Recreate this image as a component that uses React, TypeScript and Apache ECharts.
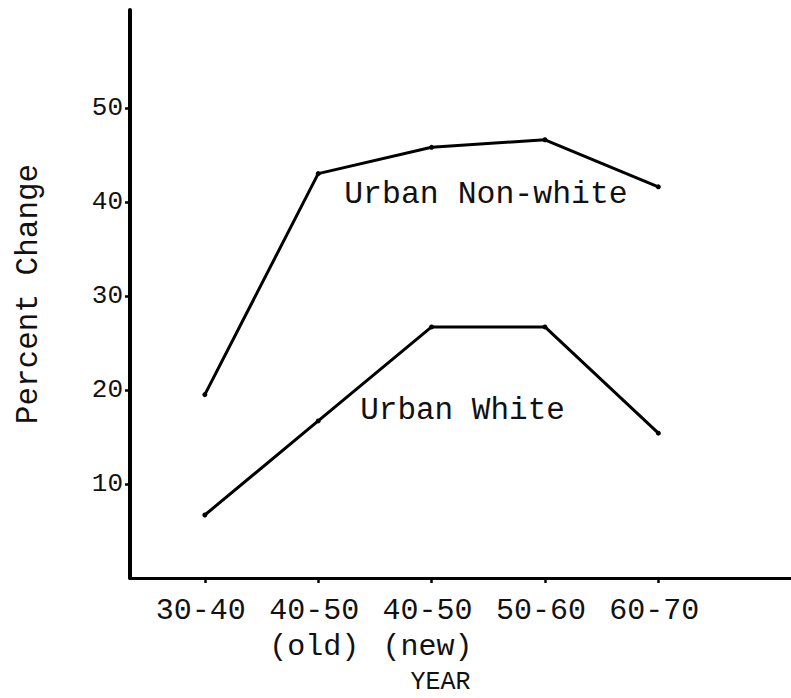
import React, { useEffect, useRef } from "react";
import * as echarts from "echarts";

const categories = ["30-40", "40-50\n(old)", "40-50\n(new)", "50-60", "60-70"];
const nonWhite = [19.5, 43.0, 45.8, 46.6, 41.6];
const white = [6.7, 16.7, 26.7, 26.7, 15.4];
const yTicks = [10, 20, 30, 40, 50];
const seriesNames = ["Urban Non-white", "Urban White"];

const FONT = "'Liberation Mono', 'DejaVu Sans Mono', monospace";

export default function App() {
  const ref = useRef<HTMLDivElement>(null);
  useEffect(() => {
    if (!ref.current) return;
    const chart = echarts.init(ref.current, null, { renderer: "svg" });
    const xIdx = categories.map((_, i) => i);
    const toPts = (arr: number[], labelIdx: number, offset: number[], size: number) =>
      arr.map((v, i) =>
        i === labelIdx
          ? {
              value: [i, v],
              label: {
                show: true,
                formatter: "{a}",
                position: "inside",
                align: "left",
                verticalAlign: "middle",
                offset,
                fontFamily: FONT,
                fontSize: size,
                color: "#111",
              },
            }
          : { value: [i, v] }
      );
    chart.setOption({
      animation: false,
      backgroundColor: "#fff",
      grid: {
        left: 130,
        right: 0,
        top: 10,
        bottom: 120,
        containLabel: false,
        outerBoundsMode: "none",
      },
      xAxis: {
        type: "value",
        min: -0.66,
        max: 5.17,
        splitLine: { show: false },
        axisLine: { show: true, onZero: false, lineStyle: { color: "#000", width: 3 } },
        axisTick: {
          show: true,
          customValues: xIdx,
          length: 5,
          inside: false,
          lineStyle: { color: "#000", width: 2.5 },
        },
        axisLabel: {
          customValues: xIdx,
          formatter: (v: number) => categories[Math.round(v)] ?? "",
          fontFamily: FONT,
          fontSize: 30,
          lineHeight: 36,
          color: "#111",
          margin: 15,
          padding: [0, 8, 0, 0],
        },
        name: "YEAR",
        nameLocation: "middle",
        nameGap: 91,
        nameMoveOverlap: false,
        nameTextStyle: {
          fontFamily: FONT,
          fontSize: 25,
          lineHeight: 26,
          color: "#111",
          padding: [0, 40, 0, 0],
        },
      },
      yAxis: {
        type: "value",
        min: 0,
        max: 60.4,
        splitLine: { show: false },
        axisLine: { show: true, onZero: false, lineStyle: { color: "#000", width: 4 } },
        axisTick: {
          show: true,
          customValues: yTicks,
          length: 5,
          lineStyle: { color: "#000", width: 2.5 },
        },
        axisLabel: {
          customValues: yTicks,
          fontFamily: FONT,
          fontSize: 26,
          color: "#111",
          margin: 7,
        },
        name: "Percent Change",
        nameLocation: "middle",
        nameRotate: 90,
        nameGap: 86,
        nameMoveOverlap: false,
        nameTextStyle: { fontFamily: FONT, fontSize: 31, color: "#111" },
      },
      series: [
        {
          name: seriesNames[0],
          type: "line",
          data: toPts(nonWhite, 1, [26, 21], 31.5),
          lineStyle: { color: "#000", width: 3 },
          itemStyle: { color: "#000" },
          symbol: "circle",
          symbolSize: 5,
          showSymbol: true,
        },
        {
          name: seriesNames[1],
          type: "line",
          data: toPts(white, 1, [42, -10], 31),
          lineStyle: { color: "#000", width: 3 },
          itemStyle: { color: "#000" },
          symbol: "circle",
          symbolSize: 5,
          showSymbol: true,
        },
      ],
    });
    return () => chart.dispose();
  }, []);
  return (
    <div
      ref={ref}
      style={{ position: "fixed", left: 0, top: 0, width: 791, height: 698, background: "#fff" }}
    />
  );
}
